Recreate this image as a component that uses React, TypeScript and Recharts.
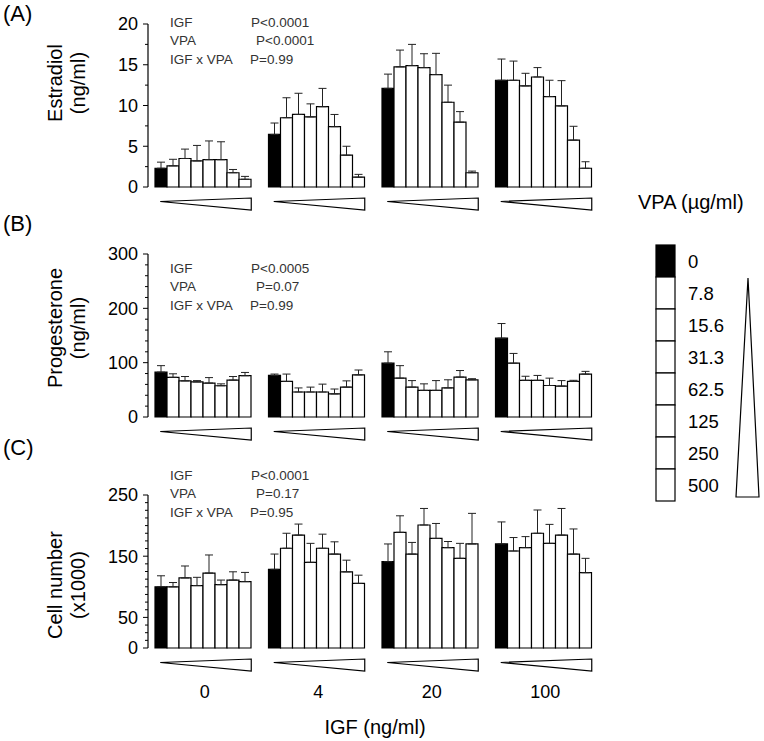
import React from "react";
import { BarChart, Bar, XAxis, YAxis, ErrorBar, Legend } from "recharts";

const igfLevels = ["0", "4", "20", "100"];
const vpaLevels = ["0", "7.8", "15.6", "31.3", "62.5", "125", "250", "500"];

// Estradiol (ng/ml): means per VPA level for each IGF dose
const estradiolIgf0 = [2.3, 2.6, 3.5, 3.2, 3.35, 3.35, 1.75, 0.95];
const estradiolIgf4 = [6.45, 8.5, 8.9, 8.6, 9.85, 7.4, 3.9, 1.2];
const estradiolIgf20 = [12.1, 14.75, 14.9, 14.65, 13.8, 10.4, 7.95, 1.75];
const estradiolIgf100 = [13.1, 13.1, 12.4, 13.5, 11.1, 9.95, 5.75, 2.3];
const estradiolErrIgf0 = [0.75, 0.8, 1.15, 1.9, 2.3, 2.2, 0.4, 0.35];
const estradiolErrIgf4 = [1.4, 2.45, 2.6, 1.6, 2.25, 1.5, 1.1, 0.35];
const estradiolErrIgf20 = [1.75, 2.05, 2.6, 1.7, 2.6, 2.1, 1.3, 0.2];
const estradiolErrIgf100 = [2.6, 2.35, 1.55, 1.15, 2.0, 3.1, 1.7, 0.8];

// Progesterone (ng/ml)
const progIgf0 = [82.5, 73, 66.5, 64.5, 62.5, 57.5, 68, 76];
const progIgf4 = [76.5, 65.5, 46, 46, 46, 42.5, 55, 77.5];
const progIgf20 = [99, 71.5, 55, 49, 49, 53.5, 73.5, 68.5];
const progIgf100 = [145, 99, 67.5, 67.5, 58, 57, 65.5, 79];
const progErrIgf0 = [12, 6.5, 8, 2.5, 10, 3.5, 6.5, 6];
const progErrIgf4 = [2.5, 13.5, 7.5, 9, 14.5, 9, 11.5, 9];
const progErrIgf20 = [21, 23, 12, 12, 18, 15, 12, 2];
const progErrIgf100 = [27, 18, 7.5, 9, 13.5, 10, 2, 5];

// Cell number (x1000)
const cellsIgf0 = [100, 100, 114.5, 102, 122.5, 103.5, 111, 108.5];
const cellsIgf4 = [128.5, 163, 184.5, 140, 163, 153.5, 124.5, 105.5];
const cellsIgf20 = [141, 189, 153.5, 201, 179, 164, 146.5, 170];
const cellsIgf100 = [170, 158.5, 164, 187.5, 171, 184.5, 153.5, 123];
const cellsErrIgf0 = [18, 7, 19.5, 13.5, 29.5, 7.5, 13.5, 15];
const cellsErrIgf4 = [25, 24.5, 18, 31, 23, 20, 19, 13.5];
const cellsErrIgf20 = [29, 27, 19, 27, 24.5, 10, 24.5, 50];
const cellsErrIgf100 = [36, 22, 18, 38, 31, 43.5, 41, 23.5];

// Axis ticks
const estradiolTicks = [0, 2.5, 5, 7.5, 10, 12.5, 15, 17.5, 20];
const estradiolLabels = [0, 5, 10, 15, 20];
const progTicks = [0, 20, 40, 60, 80, 100, 120, 140, 160, 180, 200, 220, 240, 260, 280, 300];
const progLabels = [0, 100, 200, 300];
const cellsTicks = [0, 12.5, 25, 37.5, 50, 62.5, 75, 87.5, 100, 112.5, 125, 137.5, 150, 162.5, 175, 187.5, 200, 212.5, 225, 237.5, 250];
const cellsLabels = [0, 50, 150, 250];

// Statistics text
const statNames = ["IGF", "VPA", "IGF x VPA"];
const estradiolStats = ["P<0.0001", "P<0.0001", "P=0.99"];
const progStats = ["P<0.0005", "P=0.07", "P=0.99"];
const cellsStats = ["P<0.0001", "P=0.17", "P=0.95"];

const FONT = '"Liberation Sans", Arial, Helvetica, sans-serif';

function buildRows(means: number[][], errs: number[][]) {
  return igfLevels.map((igf, gi) => {
    const row: any = { igf };
    vpaLevels.forEach((_, vi) => {
      row[`v${vi}`] = means[gi][vi];
      row[`e${vi}`] = [0, errs[gi][vi]];
    });
    return row;
  });
}

const estradiolRows = buildRows(
  [estradiolIgf0, estradiolIgf4, estradiolIgf20, estradiolIgf100],
  [estradiolErrIgf0, estradiolErrIgf4, estradiolErrIgf20, estradiolErrIgf100]
);
const progRows = buildRows(
  [progIgf0, progIgf4, progIgf20, progIgf100],
  [progErrIgf0, progErrIgf4, progErrIgf20, progErrIgf100]
);
const cellsRows = buildRows(
  [cellsIgf0, cellsIgf4, cellsIgf20, cellsIgf100],
  [cellsErrIgf0, cellsErrIgf4, cellsErrIgf20, cellsErrIgf100]
);

const makeYTick = (labels: number[]) => (props: any) => {
  const { x, y, payload } = props;
  const isLabel = labels.includes(payload.value);
  return (
    <g>
      <line x1={x - (isLabel ? 5 : 3)} x2={x} y1={y} y2={y} stroke="#000" strokeWidth={1} />
      {isLabel && (
        <text x={x - 10} y={y} dy="0.36em" textAnchor="end" fontSize={18} fontFamily={FONT} fill="#000">
          {payload.value}
        </text>
      )}
    </g>
  );
};

const makeXTick = (showLabel: boolean) => (props: any) => {
  const { x, y, payload } = props;
  const pts = `${x - 44.5},${y + 14.5} ${x + 46.5},${y + 11} ${x + 46.5},${y + 23}`;
  return (
    <g>
      <polygon points={pts} fill="#fff" stroke="#000" strokeWidth={1.2} />
      {showLabel && (
        <text x={x} y={y + 44} dy="0.36em" textAnchor="middle" fontSize={18} fontFamily={FONT} fill="#000">
          {payload.value}
        </text>
      )}
    </g>
  );
};

const makeYLabel = (line1: string, line2: string, cy: number) => () => (
  <g>
    <text x={55} y={cy} transform={`rotate(-90, 55, ${cy})`} textAnchor="middle" dy="0.36em" fontSize={20} fontFamily={FONT} fill="#000">
      {line1}
    </text>
    <text x={78} y={cy} transform={`rotate(-90, 78, ${cy})`} textAnchor="middle" dy="0.36em" fontSize={20} fontFamily={FONT} fill="#000">
      {line2}
    </text>
  </g>
);

const renderLegend = (props: any) => {
  const items: any[] = props.payload ?? [];
  return (
    <svg width={164} height={330} style={{ display: "block", overflow: "visible" }}>
      <text x={38} y={12} dy="0.36em" fontSize={20} fontFamily={FONT} fill="#000">
        VPA (µg/ml)
      </text>
      {items.map((it, i) => {
        const fill = it?.payload?.fill ?? it.color;
        return (
          <g key={`lg-${i}`}>
            <rect x={56} y={55 + i * 32} width={19} height={32} fill={fill} stroke="#000" strokeWidth={1.2} />
            <text x={88} y={71 + i * 32} dy="0.36em" fontSize={18.5} fontFamily={FONT} fill="#000">
              {it.value}
            </text>
          </g>
        );
      })}
      <polygon points="148,88 136,307 159,307" fill="#fff" stroke="#000" strokeWidth={1.2} />
    </svg>
  );
};

type PanelProps = {
  rows: any[];
  top: number;
  marginTop: number;
  plotHeight: number;
  xHeight: number;
  domain: [number, number];
  ticks: number[];
  labels: number[];
  yLabel: [string, string];
  yLabelCy: number;
  showXLabels: boolean;
  withLegend?: boolean;
};

function Panel(p: PanelProps) {
  const height = p.marginTop + p.plotHeight + p.xHeight;
  return (
    <div style={{ position: "absolute", left: 0, top: p.top, width: 764, height }}>
      <BarChart
        width={764}
        height={height}
        data={p.rows}
        margin={{ top: p.marginTop, right: 162, bottom: 0, left: 88 }}
        barGap={0}
        barCategoryGap={7}
      >
        <XAxis
          dataKey="igf"
          axisLine={false}
          tickLine={false}
          tickSize={0}
          tickMargin={0}
          height={p.xHeight}
          interval={0}
          tick={makeXTick(p.showXLabels)}
          label={
            p.showXLabels
              ? { value: "IGF (ng/ml)", position: "insideBottom", offset: 4, fontSize: 20, fill: "#000", fontFamily: FONT }
              : undefined
          }
        />
        <YAxis
          width={60}
          domain={p.domain}
          ticks={p.ticks}
          interval={0}
          tickLine={false}
          tickSize={0}
          tickMargin={0}
          axisLine={{ stroke: "#000", strokeWidth: 1.2 }}
          tick={makeYTick(p.labels)}
          label={{ content: makeYLabel(p.yLabel[0], p.yLabel[1], p.yLabelCy) } as any}
        />
        {p.withLegend && (
          <Legend
            layout="horizontal"
            verticalAlign="middle"
            align="center"
            itemSorter="dataKey"
            content={renderLegend}
            wrapperStyle={{ position: "absolute", left: 600, top: -30, width: 164, height: 330 }}
          />
        )}
        {vpaLevels.map((lvl, vi) => (
          <Bar
            key={lvl}
            dataKey={`v${vi}`}
            name={lvl}
            fill={vi === 0 ? "#000" : "#fff"}
            stroke="#000"
            strokeWidth={1.2}
            isAnimationActive={false}
          >
            <ErrorBar dataKey={`e${vi}`} width={4} stroke="#222" strokeWidth={1} direction="y" />
          </Bar>
        ))}
      </BarChart>
    </div>
  );
}

function Stats({ y0, values }: { y0: number; values: string[] }) {
  const ys = [y0, y0 + 18.5, y0 + 37];
  const px = [251, 256, 250];
  return (
    <g fontFamily={FONT} fontSize={13.5} fill="#333">
      {statNames.map((n, i) => (
        <text key={`n${i}`} x={170} y={ys[i]} dy="0.36em">{n}</text>
      ))}
      {values.map((v, i) => (
        <text key={`v${i}`} x={px[i]} y={ys[i]} dy="0.36em">{v}</text>
      ))}
    </g>
  );
}

export default function App() {
  return (
    <div style={{ position: "absolute", left: 0, top: 0, width: 764, height: 741, background: "#fff", fontFamily: FONT }}>
      <Panel
        rows={estradiolRows}
        top={0}
        marginTop={24}
        plotHeight={163}
        xHeight={30}
        domain={[0, 20]}
        ticks={estradiolTicks}
        labels={estradiolLabels}
        yLabel={["Estradiol", "(ng/ml)"]}
        yLabelCy={83}
        showXLabels={false}
      />
      <Panel
        rows={progRows}
        top={220}
        marginTop={34}
        plotHeight={163}
        xHeight={30}
        domain={[0, 300]}
        ticks={progTicks}
        labels={progLabels}
        yLabel={["Progesterone", "(ng/ml)"]}
        yLabelCy={108}
        showXLabels={false}
        withLegend
      />
      <Panel
        rows={cellsRows}
        top={450}
        marginTop={45}
        plotHeight={153}
        xHeight={90}
        domain={[0, 250]}
        ticks={cellsTicks}
        labels={cellsLabels}
        yLabel={["Cell number", "(x1000)"]}
        yLabelCy={135}
        showXLabels
      />
      <svg width={764} height={741} style={{ position: "absolute", left: 0, top: 0, pointerEvents: "none" }}>
        <g fontFamily={FONT} fontSize={22} fill="#000">
          <text x={3} y={13} dy="0.36em">(A)</text>
          <text x={3} y={223} dy="0.36em">(B)</text>
          <text x={3} y={447} dy="0.36em">(C)</text>
        </g>
        <Stats y0={22} values={estradiolStats} />
        <Stats y0={268} values={progStats} />
        <Stats y0={475} values={cellsStats} />
      </svg>
    </div>
  );
}
